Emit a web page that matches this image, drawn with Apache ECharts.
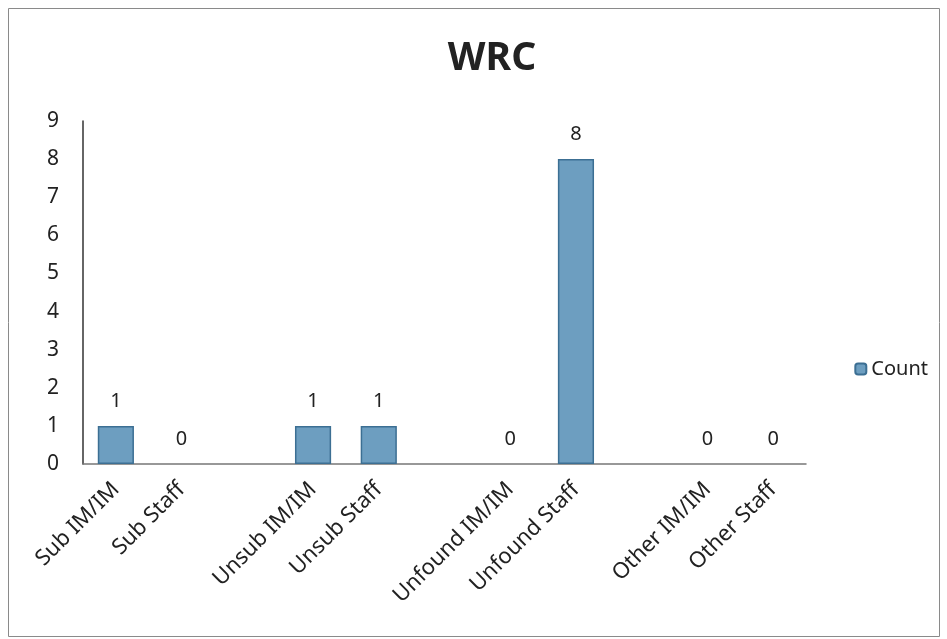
<!DOCTYPE html>
<html><head><meta charset="utf-8">
<script src="https://cdn.jsdelivr.net/npm/echarts@6/dist/echarts.min.js"></script>
<style>html,body{margin:0;padding:0;background:#fff}#c{width:947px;height:639px}</style>
</head><body><div id="c"></div>
<script>
const title = 'WRC';
const seriesName = 'Count';
const categories = ['Sub IM/IM','Sub Staff','','Unsub IM/IM','Unsub Staff','','Unfound IM/IM','Unfound Staff','','Other IM/IM','Other Staff'];
const counts = [1, 0, null, 1, 1, null, 0, 8, null, 0, 0];
const yTicks = [0, 9, 1];

const chart = echarts.init(document.getElementById('c'), null, {renderer:'canvas'});
const font = "'Noto Sans', 'Open Sans', sans-serif";
chart.setOption({
  backgroundColor: '#fff',
  graphic: [{type:'rect', shape:{x:8.5,y:8.5,width:931,height:628}, style:{fill:null, stroke:'#8a8a8a', lineWidth:1}, silent:true}],
  title: {text: title, left: 487, textAlign: 'center', top: 34, textStyle:{fontFamily:font, fontSize:39, fontWeight:'bold', color:'#222'}},
  legend: {orient:'vertical', right: 14, top: 354, itemWidth:11, itemHeight:11, itemGap:6,
    textStyle:{fontFamily:font, fontSize:20, color:'#222'}, data:[seriesName]},
  grid: {left: 83, right: 141, top: 121, bottom: 175},
  xAxis: {type:'category', data: categories,
    axisLine:{lineStyle:{color:'#777', width:1.5}}, axisTick:{show:false},
    axisLabel:{rotate:45, interval:0, margin:22, fontFamily:font, fontSize:22, color:'#222'}},
  yAxis: {type:'value', min: yTicks[0], max: yTicks[1], interval: yTicks[2],
    axisLine:{show:true, lineStyle:{color:'#333', width:1.5}}, axisTick:{show:false},
    splitLine:{show:false},
    axisLabel:{margin:24, fontFamily:font, fontSize:21, color:'#222'}},
  series: [{name: seriesName, type:'bar', barWidth:'55%',
    data: counts.map(v => v === 0 ? {value: v, itemStyle:{borderWidth:0}} : v),
    itemStyle:{color:'#6d9ec0', borderColor:'#3c6f93', borderWidth:1.5},
    label:{show:true, position:'top', distance:15, fontFamily:font, fontSize:20, color:'#222'}}]
});
</script></body></html>
